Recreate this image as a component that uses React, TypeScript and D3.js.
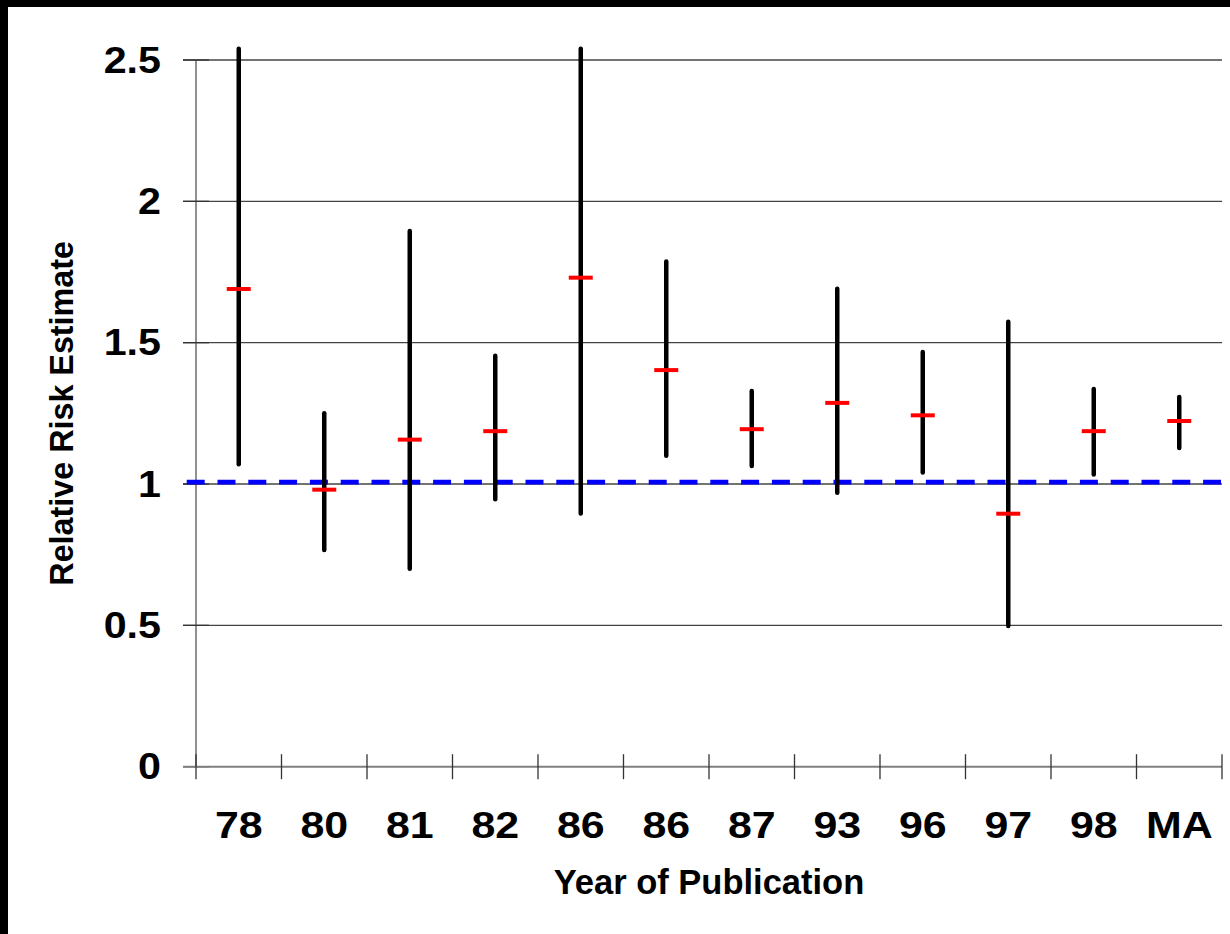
import React from 'react';
import * as d3 from 'd3';

// study labels (year of publication), MA = meta-analysis
const labels = ['78', '80', '81', '82', '86', '86', '87', '93', '96', '97', '98', 'MA'];
const estimates = [1.69, 0.98, 1.157, 1.187, 1.73, 1.403, 1.194, 1.287, 1.243, 0.895, 1.187, 1.223];
const lower = [1.07, 0.767, 0.70, 0.946, 0.896, 1.10, 1.064, 0.969, 1.041, 0.498, 1.034, 1.127];
const upper = [2.54, 1.25, 1.895, 1.454, 2.54, 1.787, 1.329, 1.691, 1.467, 1.574, 1.336, 1.308];
const yTicks = [0, 0.5, 1, 1.5, 2, 2.5];
const refValue = 1;

const W = 1230;
const H = 934;
const font = '"Liberation Sans", Arial, Helvetica, sans-serif';

const App: React.FC = () => {
  const margin = { top: 60, right: 8, bottom: 167.3, left: 196 };

  const x = d3.scaleBand<number>()
    .domain(labels.map((_, i) => i))
    .range([margin.left, W - margin.right]);

  const y = d3.scaleLinear()
    .domain([0, 2.5])
    .range([H - margin.bottom, margin.top]);

  const y0 = y(0);
  const cx = (i: number) => x(i)! + x.bandwidth() / 2;
  const bounds = d3.range(labels.length + 1).map(i => margin.left + i * x.bandwidth());

  return (
    <div style={{ position: 'absolute', left: 0, top: 0 }}>
      <svg width={W} height={H} style={{ display: 'block' }}>
        {/* black frame on top and left */}
        <rect x={0} y={0} width={W} height={H} fill="#000" />
        <rect x={8} y={7} width={W - 8} height={H - 7} fill="#fff" />

        {/* gridlines */}
        {yTicks.filter(t => t > 0).map(t => (
          <line key={t} x1={183} x2={W - margin.right} y1={y(t)} y2={y(t)} stroke="#444" strokeWidth={1.3} />
        ))}

        {/* y axis */}
        <line x1={margin.left} x2={margin.left} y1={y(2.5)} y2={y0} stroke="#555" strokeWidth={1.3} />
        {yTicks.map(t => (
          <line key={'yt' + t} x1={183} x2={209} y1={y(t)} y2={y(t)} stroke="#333" strokeWidth={1.3} />
        ))}
        {yTicks.map(t => (
          <text key={'yl' + t} transform={`translate(161,${y(t)}) scale(1.13,1)`}
            dy="0.35em" textAnchor="end" fontFamily={font} fontWeight="bold" fontSize={36.5} fill="#000">
            {t}
          </text>
        ))}

        {/* x axis */}
        <line x1={183} x2={W - margin.right} y1={y0} y2={y0} stroke="#808080" strokeWidth={2} />
        {bounds.map((b, i) => (
          <line key={'xt' + i} x1={b} x2={b} y1={y0 - 12.5} y2={y0 + 12.5} stroke="#333" strokeWidth={1.3} />
        ))}
        {labels.map((l, i) => (
          <text key={'xl' + i} transform={`translate(${cx(i)},837.5) scale(1.16,1)`}
            textAnchor="middle" fontFamily={font} fontWeight="bold" fontSize={37} fill="#000">
            {l}
          </text>
        ))}

        {/* reference line at RR = 1 */}
        <line x1={186.7} x2={1221} y1={y(refValue) - 1.8} y2={y(refValue) - 1.8}
          stroke="#0000ff" strokeWidth={4.7} strokeDasharray="18 12.8" />

        {/* confidence intervals */}
        {labels.map((_, i) => (
          <line key={'ci' + i} x1={cx(i)} x2={cx(i)} y1={y(upper[i])} y2={y(lower[i])}
            stroke="#000" strokeWidth={4.5} strokeLinecap="round" />
        ))}
        {/* point estimates */}
        {labels.map((_, i) => (
          <line key={'pe' + i} x1={cx(i) - 12} x2={cx(i) + 12} y1={y(estimates[i])} y2={y(estimates[i])}
            stroke="#ff0000" strokeWidth={4} />
        ))}

        {/* axis titles */}
        <text x={(margin.left + W - margin.right) / 2} y={894} textAnchor="middle"
          fontFamily={font} fontWeight="bold" fontSize={34.5} fill="#000">
          Year of Publication
        </text>
        <text transform={`translate(73,${(y(2.5) + y0) / 2}) rotate(-90)`} textAnchor="middle"
          fontFamily={font} fontWeight="bold" fontSize={32.3} fill="#000">
          Relative Risk Estimate
        </text>
      </svg>
    </div>
  );
};

export default App;
